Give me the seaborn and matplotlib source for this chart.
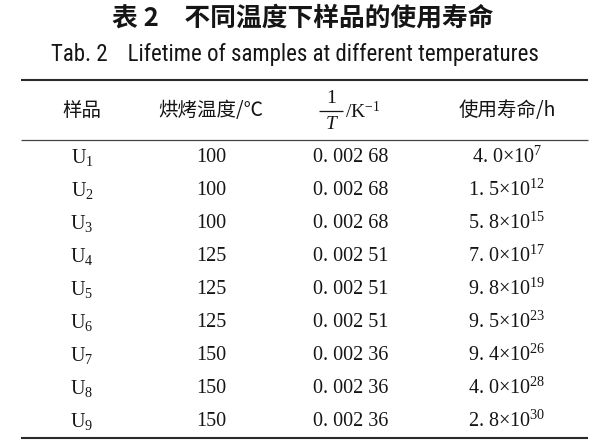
import numpy as np
import pandas as pd
import seaborn as sns
import matplotlib
matplotlib.use('Agg')
import matplotlib.pyplot as plt
from matplotlib import font_manager

# table data
samples = ['U1', 'U2', 'U3', 'U4', 'U5', 'U6', 'U7', 'U8', 'U9']
bake_temp = [100, 100, 100, 125, 125, 125, 150, 150, 150]
inv_temp = [0.00268, 0.00268, 0.00268, 0.00251, 0.00251, 0.00251, 0.00236, 0.00236, 0.00236]
life_mant = [4.0, 1.5, 5.8, 7.0, 9.8, 9.5, 9.4, 4.0, 2.8]
life_exp = [7, 12, 15, 17, 19, 23, 26, 28, 30]

title_cn = '表 2\u3000不同温度下样品的使用寿命'
title_en = 'Tab. 2\u2003Lifetime of samples at different temperatures'
headers = ['样品', '烘烤温度/℃', None, '使用寿命/h']

df = pd.DataFrame({'sample': samples, 'temp': bake_temp,
                   'invT': inv_temp, 'mant': life_mant, 'exp': life_exp})

sns.set_theme(style='white')
plt.rcParams['mathtext.fontset'] = 'custom'
plt.rcParams['mathtext.rm'] = 'Liberation Serif'
plt.rcParams['mathtext.it'] = 'Liberation Serif:italic'
plt.rcParams['mathtext.default'] = 'rm'

W, H = 616, 444
fig = plt.figure(figsize=(W / 100, H / 100), dpi=100)
ax = fig.add_axes([0, 0, 1, 1])
ax.set_xlim(0, W)
ax.set_ylim(H, 0)
ax.axis('off')

ink = '#151515'
serif = ['Liberation Serif', 'DejaVu Serif']
cjk = ['Noto Sans CJK SC', 'DejaVu Sans']

# the english caption is a condensed sans; use one if there is one
names = {f.name for f in font_manager.fontManager.ttflist}
if 'Roboto Condensed' in names:
    en_font, en_size = 'Roboto Condensed', 16.5
elif 'Liberation Sans Narrow' in names:
    en_font, en_size = 'Liberation Sans Narrow', 16.5
else:
    en_font, en_size = 'Liberation Sans', 14.3

# layout (pixels)
col_x = [82, 211, 351, 507]
row0, row_step = 157, 33
head_y = 110
x0, x1 = 21, 588

ax.text(W / 2 - 5, 18, title_cn, ha='center', va='center', fontsize=18.5,
        fontweight='bold', family=cjk, color=ink)
ax.text(W / 2 - 13, 54, title_en, ha='center', va='center', fontsize=en_size,
        family=[en_font, 'DejaVu Sans'], color=ink)

# rules
ax.plot([x0, x1], [80, 80], color='#2a2a2a', lw=1.5, solid_capstyle='butt')
ax.plot([x0, x1], [140, 140], color='#444444', lw=0.9, solid_capstyle='butt')
ax.plot([x0, x1], [438, 438], color='#2a2a2a', lw=1.5, solid_capstyle='butt')

for i, h in enumerate(headers):
    if h is not None:
        ax.text(col_x[i], head_y, h, ha='center', va='center',
                fontsize=14, family=cjk, color=ink)

# 1/T header drawn as a stacked fraction
fx = col_x[2] - 20
ax.text(fx, 98, '1', ha='center', va='center', fontsize=14, family=serif, color=ink)
ax.plot([fx - 12, fx + 12], [111, 111], color=ink, lw=0.9, solid_capstyle='butt')
ax.text(fx, 124, 'T', ha='center', va='center', fontsize=14, family=serif,
        style='italic', color=ink)
ax.text(fx + 14, 118, '/K$^{-1}$', ha='left', va='baseline', fontsize=14,
        family=serif, color=ink)


def fmt_inv(v):
    s = f'{v:.5f}'
    return s[:2] + ' ' + s[2:5] + ' ' + s[5:]


for r, row in df.iterrows():
    y = row0 + r * row_step
    cells = ['%s$_{%s}$' % (row['sample'][0], row['sample'][1:]),
             str(row['temp']),
             fmt_inv(row['invT']),
             '%s. %s×10$^{%d}$' % (str(row['mant'])[0], str(row['mant'])[2], row['exp'])]
    for c, txt in enumerate(cells):
        ax.text(col_x[c], y, txt, ha='center', va='center',
                fontsize=14.5, family=serif, color=ink)

fig.savefig('out.png', dpi=100, facecolor='white')
